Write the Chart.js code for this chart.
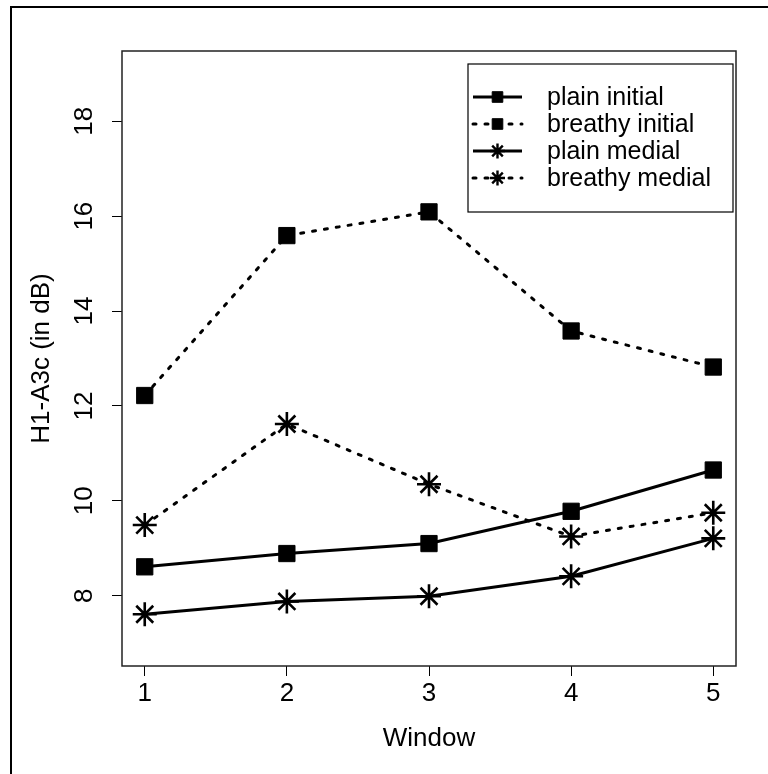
<!DOCTYPE html>
<html>
<head>
<meta charset="utf-8">
<title>H1-A3c by window</title>
<script src="https://cdn.jsdelivr.net/npm/chart.js@4.4.1/dist/chart.umd.min.js"></script>
<style>
  html, body { margin: 0; padding: 0; background: #fff; }
  #wrap { width: 768px; height: 774px; }
</style>
</head>
<body>
<div id="wrap"><canvas id="chart" width="768" height="774"></canvas></div>
<script>
  // values
  const windows = [1, 2, 3, 4, 5];
  const plainInitial = [8.61, 8.89, 9.10, 9.78, 10.65];
  const breathyInitial = [12.22, 15.59, 16.09, 13.58, 12.82];
  const plainMedial = [7.61, 7.88, 7.99, 8.41, 9.21];
  const breathyMedial = [9.49, 11.62, 10.35, 9.25, 9.75];

  const seriesNames = ['plain initial', 'breathy initial', 'plain medial', 'breathy medial'];
  const xTicks = [1, 2, 3, 4, 5];
  const yTicks = [8, 10, 12, 14, 16, 18];
  const xRange = [0.84, 5.16];
  const yRange = [6.52, 19.48];

  const FONT = "'Liberation Sans', Arial, Helvetica, sans-serif";
  const DOTTED = [3, 9];

  function points(values) {
    return windows.map((w, i) => ({ x: w, y: values[i] }));
  }

  function series(label, values, dashed, marker) {
    return {
      label,
      data: points(values),
      borderColor: '#000',
      backgroundColor: '#000',
      borderWidth: 3,
      borderDash: dashed ? DOTTED : [],
      borderCapStyle: dashed ? 'round' : 'butt',
      pointStyle: marker,
      pointRadius: marker === 'rect' ? 11.5 : 12,
      pointBorderWidth: marker === 'rect' ? 1 : 2.6,
      pointBackgroundColor: '#000',
      pointBorderColor: '#000',
      tension: 0,
      fill: false,
    };
  }

  function drawMarker(ctx, style, r, x, y) {
    ctx.beginPath();
    if (style === 'rect') {
      const s = r * Math.SQRT1_2;
      ctx.rect(x - s, y - s, 2 * s, 2 * s);
      ctx.fill();
      ctx.lineWidth = 1;
      ctx.stroke();
    } else {
      for (let k = 0; k < 4; k++) {
        const a = k * Math.PI / 4;
        ctx.moveTo(x - Math.cos(a) * r, y - Math.sin(a) * r);
        ctx.lineTo(x + Math.cos(a) * r, y + Math.sin(a) * r);
      }
      ctx.lineWidth = 2.4;
      ctx.stroke();
    }
  }

  const framePlugin = {
    id: 'frame',
    beforeDraw(chart) {
      const ctx = chart.ctx;
      ctx.save();
      ctx.fillStyle = '#fff';
      ctx.fillRect(0, 0, chart.width, chart.height);
      ctx.strokeStyle = '#000';
      ctx.lineWidth = 2;
      ctx.strokeRect(11, 7, 800, 800);
      ctx.restore();
    },
    afterDraw(chart) {
      const ctx = chart.ctx;
      const area = chart.chartArea;
      const ys = chart.scales.y;
      ctx.save();

      // plot box
      ctx.strokeStyle = '#222';
      ctx.lineWidth = 1.5;
      ctx.strokeRect(area.left, area.top, area.right - area.left, area.bottom - area.top);

      // y tick labels, parallel to the axis
      ctx.fillStyle = '#000';
      ctx.font = '26px ' + FONT;
      ctx.textAlign = 'center';
      ctx.textBaseline = 'middle';
      ys.ticks.forEach((t) => {
        ctx.save();
        ctx.translate(area.left - 37, ys.getPixelForValue(t.value));
        ctx.rotate(-Math.PI / 2);
        ctx.fillText(String(t.value), 0, 0);
        ctx.restore();
      });

      // legend box inside the plot
      const boxL = area.left + 346;
      const boxR = area.right - 3;
      const boxT = area.top + 13;
      const boxB = area.top + 161;
      ctx.fillStyle = '#fff';
      ctx.fillRect(boxL, boxT, boxR - boxL, boxB - boxT);
      ctx.strokeStyle = '#000';
      ctx.lineWidth = 1.2;
      ctx.strokeRect(boxL, boxT, boxR - boxL, boxB - boxT);

      chart.data.datasets.forEach((ds, i) => {
        const y = boxT + 33 + 27 * i;
        const x0 = boxL + 5;
        const x1 = boxL + 54;
        ctx.save();
        ctx.strokeStyle = '#000';
        ctx.lineWidth = 3;
        ctx.setLineDash(ds.borderDash);
        ctx.lineCap = ds.borderCapStyle;
        ctx.beginPath();
        ctx.moveTo(x0, y);
        ctx.lineTo(x1, y);
        ctx.stroke();
        ctx.restore();

        ctx.fillStyle = '#000';
        ctx.strokeStyle = '#000';
        drawMarker(ctx, ds.pointStyle, 7.5, (x0 + x1) / 2, y);

        ctx.fillStyle = '#000';
        ctx.font = '25px ' + FONT;
        ctx.textAlign = 'left';
        ctx.textBaseline = 'middle';
        ctx.fillText(ds.label, boxL + 79, y + 1);
      });
      ctx.restore();
    },
  };

  new Chart(document.getElementById('chart').getContext('2d'), {
    type: 'line',
    data: {
      datasets: [
        series(seriesNames[0], plainInitial, false, 'rect'),
        series(seriesNames[1], breathyInitial, true, 'rect'),
        series(seriesNames[2], plainMedial, false, 'star'),
        series(seriesNames[3], breathyMedial, true, 'star'),
      ],
    },
    options: {
      responsive: false,
      animation: false,
      devicePixelRatio: 1,
      layout: { padding: { left: 8, top: 51, right: 32, bottom: 8 } },
      plugins: {
        legend: { display: false },
        tooltip: { enabled: false },
      },
      scales: {
        x: {
          type: 'linear',
          min: xRange[0],
          max: xRange[1],
          afterBuildTicks: (s) => { s.ticks = xTicks.map((v) => ({ value: v })); },
          afterFit: (s) => { s.height = 100; },
          ticks: {
            color: '#000',
            font: { family: FONT, size: 26 },
            padding: 2.4,
            autoSkip: false,
            maxRotation: 0,
            minRotation: 0,
          },
          grid: { drawOnChartArea: false, drawTicks: true, tickLength: 10, color: '#000', lineWidth: 1 },
          border: { display: false },
          title: {
            display: true,
            text: 'Window',
            color: '#000',
            font: { family: FONT, size: 26 },
            padding: { top: 0, bottom: 11.4 },
          },
        },
        y: {
          type: 'linear',
          min: yRange[0],
          max: yRange[1],
          afterBuildTicks: (s) => { s.ticks = yTicks.map((v) => ({ value: v })); },
          afterFit: (s) => { s.width = 114; },
          ticks: { display: false },
          grid: { drawOnChartArea: false, drawTicks: true, tickLength: 10, color: '#000', lineWidth: 1 },
          border: { display: false },
          title: {
            display: true,
            text: 'H1-A3c (in dB)',
            color: '#000',
            font: { family: FONT, size: 26 },
            padding: { top: 18.4, bottom: 0 },
          },
        },
      },
    },
    plugins: [framePlugin],
  });
</script>
</body>
</html>
